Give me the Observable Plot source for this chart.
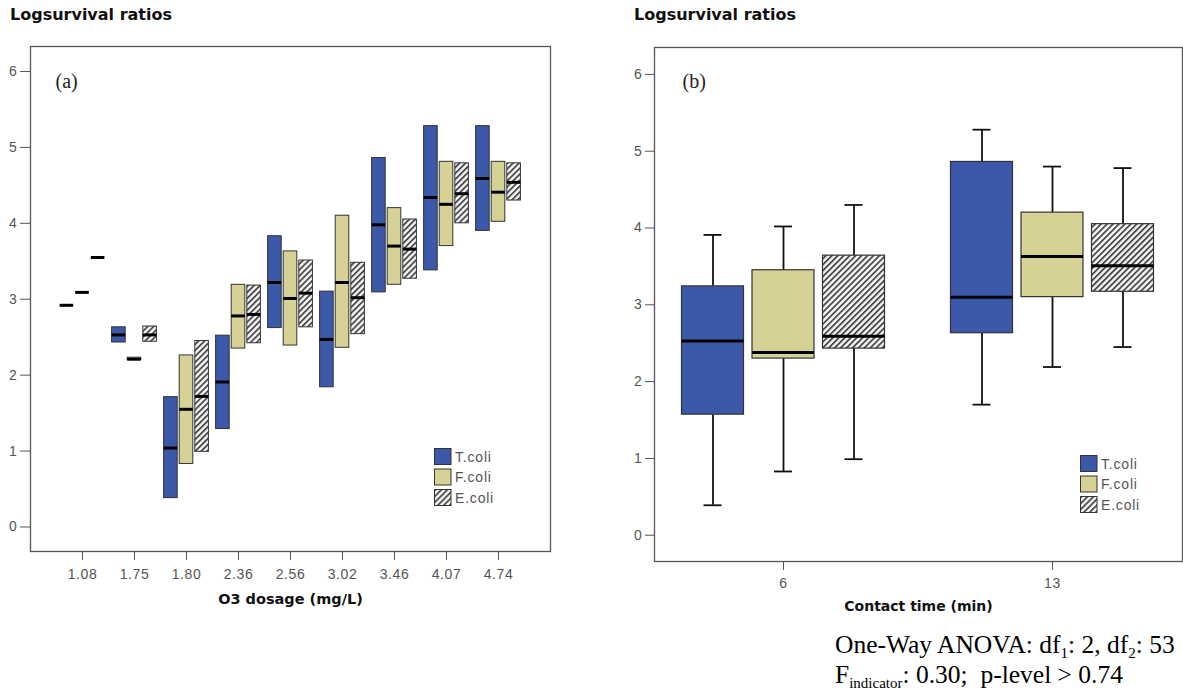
<!DOCTYPE html>
<html>
<head>
<meta charset="utf-8">
<script src="https://cdn.jsdelivr.net/npm/d3@7"></script>
<script src="https://cdn.jsdelivr.net/npm/@observablehq/plot@0.6"></script>
<style>
  html, body { margin: 0; padding: 0; background: #fff; }
  body { width: 1183px; height: 695px; position: relative; overflow: hidden; font-family: "Liberation Sans", Arial, sans-serif; }
  .title { position: absolute; font-family: "DejaVu Sans", Verdana, sans-serif; font-weight: bold; font-size: 16px; color: #111; white-space: nowrap; line-height: 1; }
  .panel { position: absolute; top: 0; }
  .legend { position: absolute; }
  .note { position: absolute; left: 835px; font-family: "Liberation Serif", "Times New Roman", serif; font-size: 25.5px; color: #000; white-space: nowrap; line-height: 1; }
  .note sub { font-size: 15px; vertical-align: -5px; }
  g[aria-label="x-axis tick label"] text, g[aria-label="y-axis tick label"] text { letter-spacing: 0.6px; }
</style>
</head>
<body>
<svg width="0" height="0" style="position:absolute">
  <defs>
    <pattern id="hatch" patternUnits="userSpaceOnUse" width="4.2" height="4.2" patternTransform="rotate(45)">
      <rect width="4.2" height="4.2" fill="#f6f6f6"></rect>
      <rect x="0" y="0" width="1.8" height="4.2" fill="#4a4a4a"></rect>
    </pattern>
  </defs>
</svg>
<div class="title" style="left:10px; top:7px;">Logsurvival ratios</div>
<div class="title" style="left:634px; top:7px;">Logsurvival ratios</div>
<div id="left" class="panel" style="left:0px;"></div>
<div id="right" class="panel" style="left:600px;"></div>
<div class="note" style="top:632px;">One-Way ANOVA: df<sub>1</sub>: 2, df<sub>2</sub>: 53</div>
<div class="note" style="top:662px;">F<sub>indicator</sub>: 0.30;&nbsp; p-level &gt; 0.74</div>
<script>
// ---------- data ----------
const species = ["T.coli", "F.coli", "E.coli"];
const speciesFill = ["#3b58a9", "#d6d296", "url(#hatch)"];

// Panel (a): O3 dosage groups (box = low..high, thick line = median)
const dosages = ["1.08", "1.75", "1.80", "2.36", "2.56", "3.02", "3.46", "4.07", "4.74"];
const tcoliLow  = [2.92, 2.43, 0.38, 1.29, 2.62, 1.84, 3.09, 3.38, 3.90];
const tcoliMed  = [2.92, 2.53, 1.04, 1.91, 3.22, 2.47, 3.98, 4.34, 4.59];
const tcoliHigh = [2.92, 2.63, 1.71, 2.52, 3.83, 3.10, 4.86, 5.28, 5.28];
const fcoliLow  = [3.09, 2.20, 0.83, 2.35, 2.39, 2.36, 3.19, 3.70, 4.02];
const fcoliMed  = [3.09, 2.21, 1.55, 2.78, 3.01, 3.22, 3.70, 4.25, 4.41];
const fcoliHigh = [3.09, 2.23, 2.26, 3.19, 3.63, 4.10, 4.20, 4.81, 4.81];
const ecoliLow  = [3.55, 2.44, 0.99, 2.42, 2.63, 2.54, 3.27, 4.00, 4.30];
const ecoliMed  = [3.55, 2.53, 1.72, 2.80, 3.08, 3.02, 3.66, 4.39, 4.54];
const ecoliHigh = [3.55, 2.64, 2.45, 3.18, 3.51, 3.48, 4.05, 4.79, 4.79];

// Panel (b): contact time groups (whisker low, Q1, median, Q3, whisker high)
const contactTimes = ["6", "13"];
const tcoliWLo = [0.39, 1.70], tcoliQ1 = [1.57, 2.63], tcoliMedian = [2.53, 3.10], tcoliQ3 = [3.24, 4.86], tcoliWHi = [3.91, 5.28];
const fcoliWLo = [0.83, 2.19], fcoliQ1 = [2.30, 3.10], fcoliMedian = [2.38, 3.63], fcoliQ3 = [3.45, 4.20], fcoliWHi = [4.02, 4.80];
const ecoliWLo = [0.99, 2.45], ecoliQ1 = [2.43, 3.17], ecoliMedian = [2.59, 3.51], ecoliQ3 = [3.64, 4.05], ecoliWHi = [4.30, 4.78];

const yTicks = [0, 1, 2, 3, 4, 5, 6];

// ---------- tables ----------
const leftSeries = [
  [tcoliLow, tcoliMed, tcoliHigh],
  [fcoliLow, fcoliMed, fcoliHigh],
  [ecoliLow, ecoliMed, ecoliHigh]
].map(([lo, md, hi]) => dosages.map((d, i) => ({dosage: d, low: lo[i], med: md[i], high: hi[i]})));

const rightSeries = [
  [tcoliWLo, tcoliQ1, tcoliMedian, tcoliQ3, tcoliWHi],
  [fcoliWLo, fcoliQ1, fcoliMedian, fcoliQ3, fcoliWHi],
  [ecoliWLo, ecoliQ1, ecoliMedian, ecoliQ3, ecoliWHi]
].map(([wl, q1, md, q3, wh]) => contactTimes.map((t, i) => ({time: t, wlo: wl[i], q1: q1[i], med: md[i], q3: q3[i], whi: wh[i]})));

const axisColor = "#555";
const intFormat = d3.format("d");

// ---------- panel (a) ----------
const leftPlot = Plot.plot({
  width: 600, height: 620,
  marginLeft: 30, marginRight: 50, marginTop: 46, marginBottom: 69,
  style: {background: "transparent", fontFamily: "'Liberation Sans', Arial, sans-serif", fontSize: "14px", color: axisColor, overflow: "visible"},
  x: {type: "band", domain: dosages, paddingInner: 0, paddingOuter: 0.43},
  y: {domain: [-0.323, 6.329]},
  marks: [
    Plot.axisX({tickSize: 9, tickPadding: 9, fontSize: 14, label: null, stroke: axisColor, fill: axisColor}),
    Plot.axisY({ticks: yTicks, tickFormat: intFormat, tickSize: 10, tickPadding: 3, fontSize: 14, label: null, stroke: axisColor, fill: axisColor}),
    ...leftSeries.flatMap((rows, j) => {
      const dx = (j - 1) * 15.6;
      return [
        Plot.barY(rows.filter(r => r.high > r.low), {x: "dosage", y1: "low", y2: "high", dx, fill: speciesFill[j], stroke: "#333", strokeWidth: 1, insetLeft: 19.2, insetRight: 19.2}),
        Plot.tickY(rows, {x: "dosage", y: "med", dx, stroke: "#000", strokeWidth: 3, insetLeft: 19.2, insetRight: 19.2})
      ];
    }),
    Plot.frame({stroke: "#555", strokeWidth: 1.3}),
    Plot.text(["(a)"], {text: d => d, frameAnchor: "top-left", dx: 25, dy: 35, textAnchor: "start", lineAnchor: "middle", fontFamily: "'Liberation Serif', 'Times New Roman', serif", fontSize: 20, fill: "#222"}),
    Plot.text(["O3 dosage (mg/L)"], {text: d => d, frameAnchor: "bottom", dy: 48, lineAnchor: "middle", fontFamily: "'DejaVu Sans', Verdana, sans-serif", fontWeight: "bold", fontSize: 14.5, fill: "#111"})
  ]
});
document.getElementById("left").append(leftPlot);

// ---------- panel (b) ----------
const rightPlot = Plot.plot({
  width: 583, height: 620,
  marginLeft: 54, marginRight: 1, marginTop: 47, marginBottom: 59,
  style: {background: "transparent", fontFamily: "'Liberation Sans', Arial, sans-serif", fontSize: "14px", color: axisColor, overflow: "visible"},
  x: {type: "band", domain: contactTimes, paddingInner: 0.1, paddingOuter: 0.03},
  y: {domain: [-0.342, 6.35]},
  marks: [
    Plot.axisX({tickSize: 9, tickPadding: 8, fontSize: 14, label: null, stroke: axisColor, fill: axisColor}),
    Plot.axisY({ticks: yTicks, tickFormat: intFormat, tickSize: 9, tickPadding: 3, fontSize: 14, label: null, stroke: axisColor, fill: axisColor}),
    ...rightSeries.flatMap((rows, j) => {
      const dx = (j - 1) * 70.5;
      return [
        Plot.ruleX(rows, {x: "time", y1: "wlo", y2: "q1", dx, stroke: "#111", strokeWidth: 1.8}),
        Plot.ruleX(rows, {x: "time", y1: "q3", y2: "whi", dx, stroke: "#111", strokeWidth: 1.8}),
        Plot.tickY(rows, {x: "time", y: "wlo", dx, stroke: "#111", strokeWidth: 1.8, insetLeft: 112, insetRight: 112}),
        Plot.tickY(rows, {x: "time", y: "whi", dx, stroke: "#111", strokeWidth: 1.8, insetLeft: 112, insetRight: 112}),
        Plot.barY(rows, {x: "time", y1: "q1", y2: "q3", dx, fill: speciesFill[j], stroke: "#333", strokeWidth: 1.2, insetLeft: 90, insetRight: 90}),
        Plot.tickY(rows, {x: "time", y: "med", dx, stroke: "#000", strokeWidth: 3, insetLeft: 90, insetRight: 90})
      ];
    }),
    Plot.frame({stroke: "#555", strokeWidth: 1.3}),
    Plot.text(["(b)"], {text: d => d, frameAnchor: "top-left", dx: 28, dy: 34, textAnchor: "start", lineAnchor: "middle", fontFamily: "'Liberation Serif', 'Times New Roman', serif", fontSize: 20, fill: "#222"}),
    Plot.text(["Contact time (min)"], {text: d => d, frameAnchor: "bottom", dy: 45, lineAnchor: "middle", fontFamily: "'DejaVu Sans', Verdana, sans-serif", fontWeight: "bold", fontSize: 14, fill: "#111"})
  ]
});
document.getElementById("right").append(rightPlot);

// ---------- legends ----------
function drawLegend(left, top) {
  const svg = d3.select("body").append("svg")
    .attr("class", "legend")
    .attr("width", 90).attr("height", 66)
    .style("left", left + "px").style("top", top + "px");
  const g = svg.selectAll("g").data(species).join("g")
    .attr("transform", (d, j) => `translate(0.5, ${0.5 + j * 20.5})`);
  g.append("rect").attr("width", 16.5).attr("height", 16)
    .attr("fill", (d, j) => speciesFill[j]).attr("stroke", "#333").attr("stroke-width", 1);
  g.append("text").attr("x", 20.5).attr("y", 8.5).attr("dy", "0.35em")
    .attr("fill", "#555").attr("font-size", 14).attr("letter-spacing", "0.8px")
    .attr("font-family", "'Liberation Sans', Arial, sans-serif")
    .text(d => d);
}
drawLegend(434, 448);
drawLegend(1080, 455);
</script>
</body>
</html>
